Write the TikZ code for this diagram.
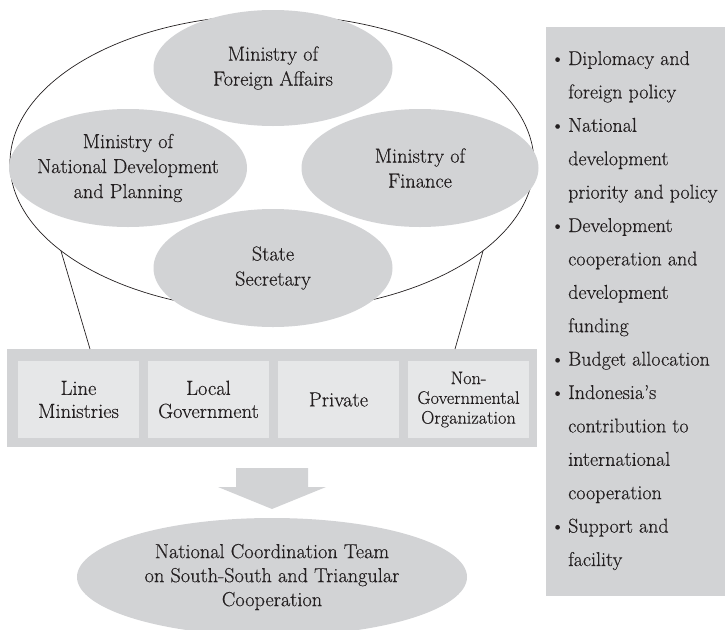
\documentclass[tikz,border=0pt]{standalone}
\usepackage{fontspec}
\usetikzlibrary{shapes.geometric}
\newfontfamily\dfont{Latin Modern Roman}[Ligatures=TeX, FakeBold=0.35]
\definecolor{ellgrey}{RGB}{210,211,213}
\definecolor{boxgrey}{RGB}{230,231,232}
\definecolor{inkc}{RGB}{35,31,32}
\begin{document}
\begin{tikzpicture}[x=1pt,y=-1pt,
  greyell/.style={ellipse, fill=ellgrey, draw=none, inner sep=0pt},
  lbl/.style={align=center, text=inkc, inner sep=0pt, font=\dfont\fontsize{20.3}{25}\selectfont},
  boxlbl/.style={align=center, text=inkc, inner sep=0pt, font=\dfont\fontsize{20.5}{23}\selectfont},
  smalllbl/.style={align=center, text=inkc, inner sep=0pt, font=\dfont\fontsize{18.2}{19.8}\selectfont},
  unitbox/.style={rectangle, fill=boxgrey, draw=none, inner sep=0pt, minimum width=121pt, minimum height=77pt},
  paneltxt/.style={text=inkc, inner sep=0pt, font=\dfont\fontsize{20}{33.4}\selectfont},
  rim/.style={draw=inkc, line width=0.7pt}]
\useasboundingbox (0,0) rectangle (725,629);

% outer oval holding the four core institutions
\node[ellipse, rim, inner sep=0pt, minimum width=524pt, minimum height=296pt] (outer) at (272,163) {};

% funnel sides from the oval down to the stakeholder band
\coordinate (lt) at (61,251);
\coordinate (rt) at (483,251);

% core institutions
\node[greyell, minimum width=239pt, minimum height=116pt] (fa) at (273,68) {};
\node[lbl] (fat) at (fa.center) {Ministry of\\Foreign Affairs};
\node[greyell, minimum width=238pt, minimum height=118pt] (nd) at (128,168) {};
\node[lbl] (ndt) at (nd.center) {Ministry of\\National Development\\and Planning};
\node[greyell, minimum width=237pt, minimum height=118pt] (fin) at (420,168) {};
\node[lbl] (fint) at (fin.center) {Ministry of\\Finance};
\node[greyell, minimum width=239pt, minimum height=118pt] (ss) at (273,268) {};
\node[lbl] (sst) at (ss.center) {State\\Secretary};

% stakeholder band
\node[rectangle, fill=ellgrey, inner sep=0pt, minimum width=530pt, minimum height=98pt] (band) at (272,398) {};
\coordinate (lb) at (90,349);
\coordinate (rb) at (455,349);
\draw[rim] (lt) -- (lb);
\draw[rim] (rt) -- (rb);

\node[unitbox] (b1) at (78.5,399.5) {};
\node[boxlbl] (b1t) at (b1.center) {Line\\Ministries};
\node[unitbox] (b2) at (208.5,399.5) {};
\node[boxlbl] (b2t) at (b2.center) {Local\\Government};
\node[unitbox] (b3) at (338.5,399.5) {};
\node[boxlbl] (b3t) at (b3.center) {Private};
\node[unitbox] (b4) at (468.5,399.5) {};
\node[smalllbl] (b4t) at (b4.center) {Non-\\Governmental\\Organization};

% block arrow towards the coordination team
\fill[ellgrey] (236,468) -- (308,468) -- (308,487) -- (326,487) -- (272,509)
  -- (218,487) -- (236,487) -- cycle;

% coordination team
\node[greyell, minimum width=390pt, minimum height=118pt] (nct) at (272,577) {};
\node[lbl, font=\dfont\fontsize{20.3}{24}\selectfont] (nctt) at (nct.center) {National Coordination Team\\on South-South and Triangular\\Cooperation};

% side panel with the functions
\node[rectangle, fill=ellgrey, inner sep=0pt, minimum width=179pt, minimum height=569pt, anchor=north west] (panel) at (546,27) {};
\foreach \t/\b [count=\i] in {
  {Diplomacy and}/1, {foreign policy}/0, {National}/1, {development}/0,
  {priority and policy}/0, {Development}/1, {cooperation and}/0,
  {development}/0, {funding}/0, {Budget allocation}/1, {Indonesia’s}/1,
  {contribution to}/0, {international}/0, {cooperation}/0,
  {Support and}/1, {facility}/0} {
  \node[paneltxt, anchor=base west] (pl\i) at (568,31.6+33.4*\i) {\t};
  \ifnum\b=1
    \node[paneltxt, anchor=base east] (pb\i) at (565,31.6+33.4*\i) {\textbullet};
  \fi
}
\end{tikzpicture}
\end{document}
